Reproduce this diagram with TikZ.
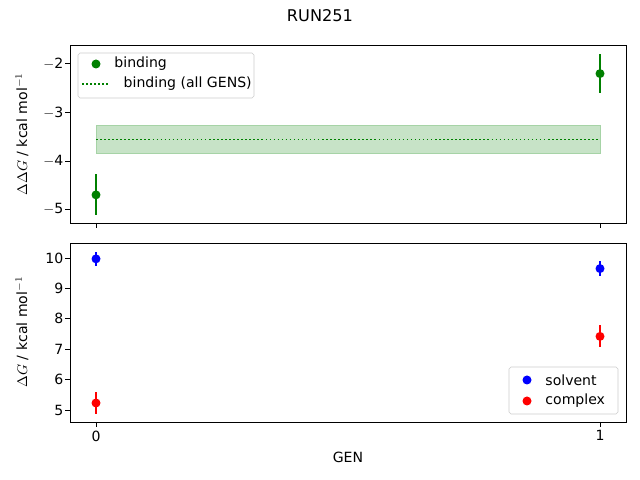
\documentclass[tikz,border=0pt]{standalone}
\usepackage{fontspec}
\setmainfont{DejaVu Sans}
\setsansfont{DejaVu Sans}
\usepackage{tikz}
\usetikzlibrary{positioning}
\definecolor{verdeMpl}{RGB}{0,128,0}
\tikzstyle{pt}  =[circle, inner sep=0pt, minimum size=6.4pt]
\tikzstyle{err} =[line width=1.07pt]
\tikzstyle{axe} =[line width=0.57pt]
\tikzstyle{tick}=[line width=0.57pt]
\tikzstyle{dots}=[verdeMpl, line width=1.07pt, dash pattern=on 1.07pt off 1.8pt]
\tikzstyle{lab} =[font=\fontsize{10}{12}\selectfont, inner sep=1pt]
\begin{document}
\begin{tikzpicture}[x=0.025cm,y=0.025cm]
    \useasboundingbox (0,0) rectangle (640,480);
    \node[lab, font=\fontsize{11.5}{13}\selectfont] (title) at (320,464) {RUN251};

    % top panel
    \begin{scope}[y=1.2125cm, shift={(0,12.825cm)}]
        \fill[verdeMpl!22, draw=verdeMpl!35] (96,-3.27) rectangle (600,-3.85);
        \draw[dots] (96,-3.56) -- (600,-3.56);
        \foreach \x/\v/\lo/\hi in {96/-4.7/-4.27/-5.12, 600/-2.2/-1.8/-2.6}{
            \draw[err, verdeMpl] (\x,\lo) -- (\x,\hi);
            \node[pt, fill=verdeMpl] at (\x,\v) {};
        }
        \foreach \v/\t in {-2/2,-3/3,-4/4,-5/5}{
            \draw[tick] (70,\v) -- ++(-3.5pt,0) node[lab, left] {$-$\t};
        }
    \end{scope}
    \draw[axe] (70,257) rectangle (626,435);
    \draw[tick] (96,257) -- ++(0,-3.5pt);
    \draw[tick] (600,257) -- ++(0,-3.5pt);
    \node[lab, rotate=90] (ylabA) at (22,346) {$\Delta\Delta G$ / kcal mol$^{-1}$};

    % legend top
    \draw[black!20, fill=white, rounded corners=1.4pt] (78,382) rectangle (254,427);
    \node[pt, fill=verdeMpl] (lgA) at (96,416) {};
    \node[lab, right=8.5pt of lgA] {binding};
    \draw[dots] (82,396) -- (110,396);
    \node[lab, anchor=west] (lgB) at (122,396) {binding (all GENS)};

    % bottom panel
    \begin{scope}[y=0.76cm, shift={(0,-2.05cm)}]
        \foreach \x/\v/\lo/\hi/\c in {96/9.97/9.74/10.2/blue, 96/5.23/4.88/5.6/red,
                                      600/9.65/9.42/9.9/blue, 600/7.42/7.08/7.8/red}{
            \draw[err, \c] (\x,\lo) -- (\x,\hi);
            \node[pt, fill=\c] at (\x,\v) {};
        }
        \foreach \v in {5,...,10}{
            \draw[tick] (70,\v) -- ++(-3.5pt,0) node[lab, left] {\v};
        }
    \end{scope}
    \draw[axe] (70,58) rectangle (626,237);
    \draw[tick] (96,58) -- ++(0,-3.5pt) node[lab, below=1.4pt] {0};
    \draw[tick] (600,58) -- ++(0,-3.5pt) node[lab, below=1.4pt] {1};
    \node[lab] (xlab) at (348,23) {GEN};
    \node[lab, rotate=90] (ylabB) at (22,148) {$\Delta G$ / kcal mol$^{-1}$};

    % legend bottom
    \draw[black!20, fill=white, rounded corners=1.4pt] (509,66) rectangle (618,113);
    \node[pt, fill=blue] (lgS) at (527,100) {};
    \node[lab, right=8.5pt of lgS] {solvent};
    \node[pt, fill=red] (lgC) at (527,79) {};
    \node[lab, right=8.5pt of lgC] {complex};
\end{tikzpicture}
\end{document}
